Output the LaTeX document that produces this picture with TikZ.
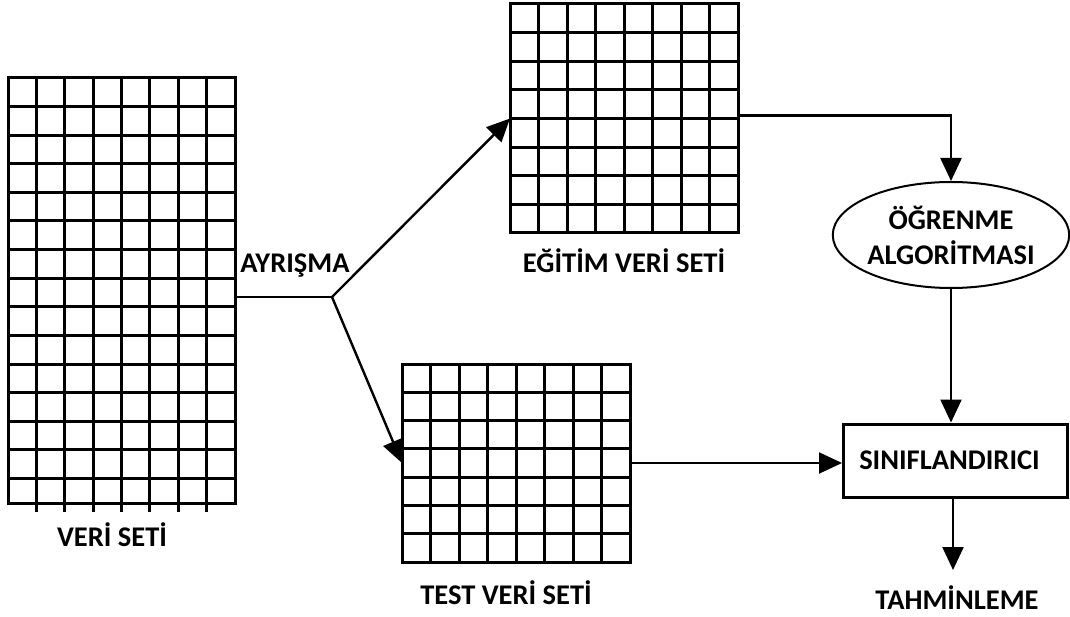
\documentclass[tikz,border=0pt]{standalone}
\usepackage{fontspec}
\setmainfont{Carlito}
\usetikzlibrary{arrows.meta,shapes.geometric}
\begin{document}
\begin{tikzpicture}[x=1pt,y=-1pt,
  gridline/.style={line width=3pt},
  conn/.style={line width=2.4pt,-{Triangle[length=23pt,width=21pt]}},
  plain/.style={line width=2.4pt},
  lbl/.style={font=\bfseries\fontsize{28.5}{34}\selectfont, inner sep=0pt, align=center},
  gridbox/.style={draw, line width=3pt, inner sep=0pt, outer sep=0pt, anchor=north west}]
\useasboundingbox (0,0) rectangle (1070,617);

% big data set grid (8 x 15)
\node[gridbox, minimum width=227pt, minimum height=425pt] (veri) at (8,78) {};
\foreach \i in {1,...,7} \draw[gridline] (8+\i*28.375,78) -- (8+\i*28.375,512);
\foreach \j in {1,...,14} \draw[gridline] (8,78+\j*28.6) -- (235,78+\j*28.6);

% training grid (8 x 8)
\node[gridbox, minimum width=228pt, minimum height=229pt] (egitim) at (510,4) {};
\foreach \i in {1,...,7} \draw[gridline] (510+\i*28.5,4) -- (510+\i*28.5,233);
\foreach \j in {1,...,7} \draw[gridline] (510,4+\j*28.625) -- (738,4+\j*28.625);

% test grid (8 x 7)
\node[gridbox, minimum width=228pt, minimum height=198pt] (test) at (402,364) {};
\foreach \i in {1,...,7} \draw[gridline] (402+\i*28.5,364) -- (402+\i*28.5,562);
\foreach \j in {1,...,6} \draw[gridline] (402,364+\j*28.3) -- (630,364+\j*28.3);

% learning algorithm ellipse
\node[ellipse, draw, line width=2pt, minimum width=236pt, minimum height=106pt, inner sep=0pt,
      font=\bfseries\fontsize{28.5}{35}\selectfont, align=center] (ogrenme) at (951,235) {ÖĞRENME\\ALGORİTMASI};

% classifier box
\node[draw, line width=3pt, minimum width=224pt, minimum height=73pt, inner sep=0pt,
      font=\bfseries\fontsize{28.5}{34}\selectfont] (sinif) at (955.5,460.5) {\hspace*{-12pt}SINIFLANDIRICI};

% labels
\node[lbl] (ayrisma) at (295,266) {AYRIŞMA};
\node[lbl] (veril) at (112,535) {VERİ SETİ};
\node[lbl] (testl) at (506,593) {TEST VERİ SETİ};
\node[lbl] (egitiml) at (624,261) {EĞİTİM VERİ SETİ};
\node[lbl, anchor=base] (tahmin) at (957,609) {TAHMİNLEME};

% connectors
\coordinate (split) at (332,297);
\coordinate (tahmintip) at (953,570);
\draw[plain] (veri.east |- split) -- (split);
\draw[conn] (split) -- (egitim.west);
\draw[conn] (split) -- (test.west);
\draw[conn] ([yshift=3pt]egitim.east) -| (ogrenme.south |- ogrenme.north);
\draw[conn] (ogrenme.south) -- (ogrenme.south |- sinif.north);
\draw[line width=2pt,-{Triangle[length=23pt,width=21pt]}] (test.east) -- (test.east -| sinif.west);
\draw[conn] (tahmintip |- sinif.south) -- (tahmintip);
\end{tikzpicture}
\end{document}
